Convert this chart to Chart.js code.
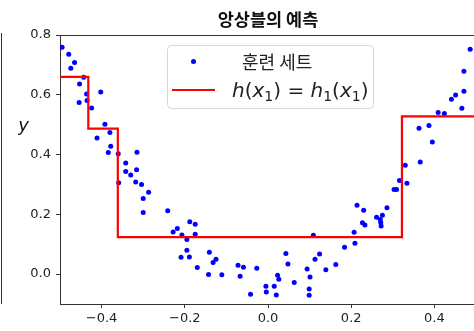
<!DOCTYPE html>
<html>
<head>
<meta charset="utf-8">
<script src="https://cdn.jsdelivr.net/npm/chart.js@4/dist/chart.umd.min.js"></script>
<style>
  html, body { margin: 0; padding: 0; overflow: hidden; background: #fff; }
  canvas { display: block; }
</style>
</head>
<body>
<canvas id="chart" width="480" height="331"></canvas>
<script>
// Training samples (x1, y)
const trainX = [
  -0.495, -0.479, -0.465, -0.474, -0.443, -0.453, -0.402, -0.436, -0.454, -0.435,
  -0.424, -0.392, -0.380, -0.411, -0.378, -0.384, -0.360, -0.315, -0.342, -0.316,
  -0.342, -0.330, -0.359, -0.318, -0.304, -0.287, -0.300, -0.300, -0.241, -0.188,
  -0.175, -0.218, -0.228, -0.207, -0.195, -0.175, -0.195, -0.209, -0.189, -0.170,
  -0.141, -0.125, -0.132, -0.143, -0.111, -0.072, -0.059, -0.067, -0.027, -0.042,
  -0.005, -0.004, 0.015, 0.020, 0.023, 0.026, 0.043, 0.048, 0.063, 0.099,
  0.099, 0.101, 0.094, 0.109, 0.113, 0.124, 0.139, 0.163, 0.184, 0.207,
  0.209, 0.214, 0.230, 0.227, 0.233, 0.261, 0.275, 0.270, 0.271, 0.272,
  0.286, 0.303, 0.309, 0.316, 0.334, 0.330, 0.366, 0.363, 0.387, 0.395,
  0.409, 0.424, 0.441, 0.451, 0.466, 0.471, 0.471, 0.486
];
const trainY = [
  0.759, 0.736, 0.708, 0.689, 0.659, 0.636, 0.609, 0.603, 0.574, 0.581,
  0.556, 0.501, 0.474, 0.455, 0.428, 0.407, 0.403, 0.408, 0.372, 0.349,
  0.343, 0.332, 0.306, 0.308, 0.300, 0.274, 0.253, 0.206, 0.212, 0.175,
  0.167, 0.153, 0.141, 0.131, 0.116, 0.133, 0.080, 0.056, 0.057, 0.022,
  0.073, 0.050, 0.039, -0.001, -0.002, 0.030, 0.023, -0.007, 0.020, -0.067,
  -0.041, -0.060, -0.041, -0.070, -0.004, -0.017, 0.069, 0.034, -0.028, -0.050,
  -0.071, -0.010, 0.017, 0.130, 0.050, 0.067, 0.015, 0.032, 0.090, 0.140,
  0.103, 0.230, 0.214, 0.172, 0.164, 0.190, 0.197, 0.183, 0.173, 0.161,
  0.222, 0.283, 0.283, 0.313, 0.304, 0.364, 0.375, 0.488, 0.497, 0.442,
  0.541, 0.537, 0.585, 0.599, 0.555, 0.612, 0.679, 0.752
];

// Regression tree: split thresholds and leaf predictions
const splitX = [-0.432, -0.361, 0.322];
const leafY = [0.660, 0.487, 0.124, 0.528];

// Axes
const xRange = [-0.5, 0.5];
const yRange = [-0.1, 0.8];
const xTicks = [-0.4, -0.2, 0.0, 0.2, 0.4];
const yTicks = [0.0, 0.2, 0.4, 0.6, 0.8];

// Text
const titleText = '앙상블의 예측';
const yAxisLabel = 'y';
const seriesLabels = ['훈련 세트', 'h(x₁) = h₁(x₁)'];

const fmtTick = v => (v < -1e-9 ? '\u2212' : '') + Math.abs(v).toFixed(1);

// Prediction curve: each leaf value held from its left edge to the next split
const stepEdges = [xRange[0], ...splitX, xRange[1]];
const stepPoints = [];
leafY.forEach((v, i) => {
  stepPoints.push({ x: stepEdges[i], y: v });
  stepPoints.push({ x: stepEdges[i + 1], y: v });
});

const SPINE = '#333333';
const TICK_FONT = { family: "'DejaVu Sans'", size: 13 };

// Math-style legend label pieces: [text, italic, subscript]
const mathPieces = [
  ['h', true, false], ['(', false, false], ['x', true, false], ['1', false, true], [')', false, false],
  [' = ', false, false],
  ['h', true, false], ['1', false, true], ['(', false, false], ['x', true, false], ['1', false, true], [')', false, false]
];

const decorPlugin = {
  id: 'decor',
  afterDraw(chart) {
    const { ctx, chartArea: a } = chart;
    ctx.save();

    // top spine
    ctx.strokeStyle = SPINE;
    ctx.lineWidth = 1;
    ctx.beginPath();
    ctx.moveTo(a.left, Math.round(a.top) + 0.5);
    ctx.lineTo(a.right, Math.round(a.top) + 0.5);
    ctx.stroke();

    // neighbouring panel's right spine at the very left edge
    ctx.beginPath();
    ctx.moveTo(1.5, a.top - 2);
    ctx.lineTo(1.5, a.bottom);
    ctx.stroke();

    // title centred over the axes
    ctx.fillStyle = '#111';
    ctx.font = "bold 17.5px 'Noto Sans CJK KR'";
    ctx.textAlign = 'center';
    ctx.textBaseline = 'middle';
    ctx.fillText(titleText, (a.left + a.right) / 2, 19);

    // horizontal y-axis label
    ctx.font = "italic 18px 'DejaVu Sans'";
    ctx.textBaseline = 'alphabetic';
    ctx.fillText(yAxisLabel, 23.5, 131);

    // legend
    const lx = 167.5, ly = 45.5, lw = 206, lh = 63;
    ctx.fillStyle = 'rgba(255,255,255,0.85)';
    ctx.strokeStyle = '#d6d6d6';
    ctx.lineWidth = 1;
    ctx.beginPath();
    ctx.roundRect(lx, ly, lw, lh, 4);
    ctx.fill();
    ctx.stroke();

    const ds = chart.data.datasets;
    // entry 1: marker
    ctx.fillStyle = ds[0].pointBackgroundColor;
    ctx.beginPath();
    ctx.arc(193.5, 61.5, 2.5, 0, Math.PI * 2);
    ctx.fill();
    ctx.fillStyle = '#222';
    ctx.font = "18px 'Noto Sans CJK KR'";
    ctx.textAlign = 'left';
    ctx.textBaseline = 'middle';
    ctx.fillText(ds[0].label, 242, 62.5);

    // entry 2: line sample
    ctx.strokeStyle = ds[1].borderColor;
    ctx.lineWidth = 2;
    ctx.beginPath();
    ctx.moveTo(172, 90);
    ctx.lineTo(215, 90);
    ctx.stroke();

    // entry 2: math label
    ctx.fillStyle = '#222';
    ctx.textBaseline = 'alphabetic';
    let x = 232;
    const base = 97;
    for (const [t, it, sub] of mathPieces) {
      const size = sub ? 14 : 20;
      ctx.font = (it ? 'italic ' : '') + size + "px 'DejaVu Sans'";
      ctx.fillText(t, x, sub ? base + 4 : base);
      x += ctx.measureText(t).width;
    }

    ctx.restore();
  }
};

new Chart(document.getElementById('chart'), {
  type: 'scatter',
  data: {
    datasets: [
      {
        label: seriesLabels[0],
        data: trainX.map((x, i) => ({ x, y: trainY[i] })),
        pointRadius: 2.5,
        pointBorderWidth: 0,
        pointBackgroundColor: '#0000ff',
        backgroundColor: '#0000ff',
        borderColor: '#0000ff',
        order: 1
      },
      {
        type: 'line',
        label: seriesLabels[1],
        data: stepPoints,
        borderColor: '#ff0000',
        borderWidth: 2.2,
        pointRadius: 0,
        fill: false,
        tension: 0,
        order: 0
      }
    ]
  },
  options: {
    responsive: false,
    animation: false,
    layout: { padding: { top: 35, left: 0, right: 0, bottom: 0 } },
    plugins: {
      legend: { display: false },
      tooltip: { enabled: false },
      title: { display: false }
    },
    scales: {
      x: {
        type: 'linear',
        min: xRange[0],
        max: xRange[1],
        afterBuildTicks: s => { s.ticks = xTicks.map(v => ({ value: v })); },
        afterFit: s => { s.height = 27; },
        ticks: { callback: fmtTick, font: TICK_FONT, color: '#222', padding: 3, maxRotation: 0, autoSkip: false },
        grid: { drawOnChartArea: false, drawTicks: true, tickLength: 4, tickColor: SPINE, tickWidth: 1 },
        border: { display: true, color: SPINE, width: 1 }
      },
      y: {
        type: 'linear',
        min: yRange[0],
        max: yRange[1],
        afterBuildTicks: s => { s.ticks = yTicks.map(v => ({ value: v })); },
        afterFit: s => { s.width = 60; },
        ticks: { callback: fmtTick, font: TICK_FONT, color: '#222', padding: 5, autoSkip: false },
        grid: { drawOnChartArea: false, drawTicks: true, tickLength: 4, tickColor: SPINE, tickWidth: 1 },
        border: { display: true, color: SPINE, width: 1 }
      }
    }
  },
  plugins: [decorPlugin]
});
</script>
</body>
</html>
